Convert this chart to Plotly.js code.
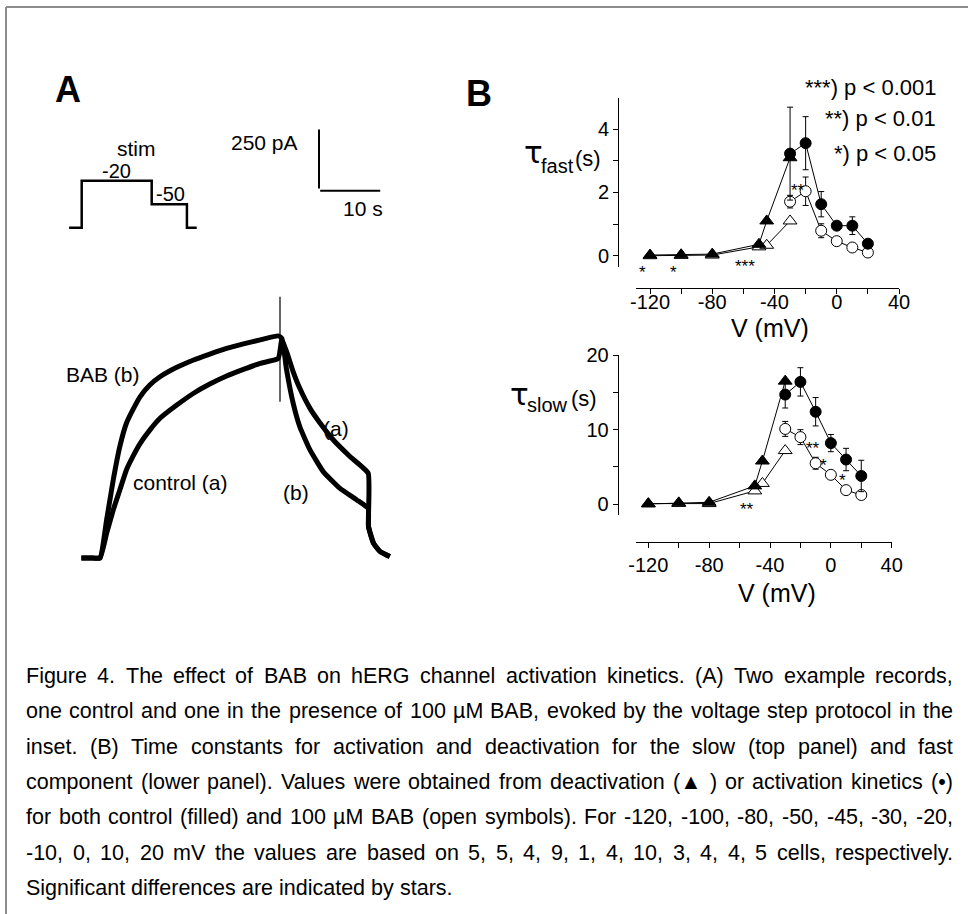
<!DOCTYPE html>
<html><head><meta charset="utf-8">
<script src="https://cdn.plot.ly/plotly-3.0.1.min.js"></script>
<style>html,body{margin:0;padding:0;background:#fff;} #chart{width:968px;height:914px;}</style>
</head><body><div id="chart"></div>
<script>
// ================= DATA =================
// Panel B: voltages (mV)
const vTriangle = [-120, -100, -80, -50, -45, -30];
const vCircle = [-30, -20, -10, 0, 10, 20];

// tau fast (s)
const fastCtrlTri = [0.02, 0.03, 0.05, 0.36, 1.10, 3.10];
const fastBabTri  = [0.00, 0.01, 0.02, 0.28, 0.33, 1.10];
const fastCtrlCirc    = [3.23, 3.56, 1.63, 0.95, 0.95, 0.38];
const fastCtrlCircErr = [1.47, 0.84, 0.40, 0.00, 0.28, 0.00];
const fastBabCirc     = [1.71, 2.04, 0.79, 0.46, 0.26, 0.10];
const fastBabCircErr  = [0.20, 0.45, 0.22, 0.00, 0.00, 0.00];

// tau slow (s)
const slowCtrlTri = [0.05, 0.20, 0.27, 2.47, 5.80, 16.5];
const slowBabTri  = [0.10, 0.12, 0.10, 1.80, 2.80, 7.20];
const slowCtrlCirc    = [14.7, 16.4, 12.4, 8.2, 6.0, 3.8];
const slowCtrlCircErr = [1.8, 1.9, 1.9, 1.15, 1.5, 2.1];
const slowBabCirc     = [10.1, 9.0, 5.5, 3.95, 1.9, 1.25];
const slowBabCircErr  = [1.0, 1.0, 0.8, 0.0, 0.0, 0.0];

// significance stars
const sigFastV = [-125, -105, -59, -25];
const sigFastY = [-0.34, -0.34, -0.20, 2.20];
const sigFastText = ['*', '*', '***', '**'];
const sigSlowV = [-55, -12, -5, 7.6];
const sigSlowY = [-0.1, 8.0, 5.7, 3.7];
const sigSlowText = ['**', '**', '*', '*'];

// tick labels
const vTickVals = [-120, -100, -80, -60, -40, -20, 0, 20, 40];
const vTickText = ['-120', '', '-80', '', '-40', '', '0', '', '40'];
const fastTickVals = [0, 1, 2, 3, 4];
const fastTickText = ['0', '', '2', '', '4'];
const slowTickVals = [0, 5, 10, 15, 20];
const slowTickText = ['0', '', '10', '', '20'];

// Panel A: current records (time s, current pA)
const ctrlT = [-3.1, -1.5, 0, 1.1, 2.2, 3.3, 4.4, 5.6, 6.7, 8.3, 10.0, 12.8, 15.6, 18.3, 21.1, 23.9, 26.7, 29.7,
               30.3, 31.1, 32.2, 33.3, 35.0, 36.7, 38.9, 41.7, 44.7, 44.75, 45.6, 46.7, 48.3];
const ctrlI = [0, 0, 0, 104, 203, 288, 373, 436, 486, 542, 592, 648, 698, 737, 771, 799, 825, 845,
               924, 874, 789, 719, 634, 571, 500, 429, 359, 133, 62, 27, 6];
const babT  = [-3.1, -1.5, 0, 1.1, 2.2, 3.3, 4.4, 5.6, 6.7, 8.3, 10.0, 12.8, 15.6, 18.3, 21.1, 23.9, 26.7, 29.7,
               30.3, 31.1, 32.2, 33.3, 35.0, 37.2, 40.0, 42.8, 44.7, 44.75, 45.6, 46.7, 48.3];
const babI  = [0, 0, 0, 161, 330, 472, 571, 634, 684, 733, 768, 808, 839, 864, 888, 907, 924, 941,
               931, 797, 655, 556, 458, 366, 295, 246, 210, 133, 62, 27, 6];
const spikeT = [30.0, 30.0];
const spikeI = [1107, 662];

// scale bar (s, pA)
const scaleT = 10;
const scaleI = 250;

// stimulus protocol (s, mV)
const stimT = [-5.4, 0, 0, 30, 30, 45.1, 45.1, 49.3];
const stimV = [-80, -80, -20, -20, -50, -50, -80, -80];

// caption
const captionLines = [
  'Figure 4. The effect of BAB on hERG channel activation kinetics. (A) Two example records,',
  'one control and one in the presence of 100 µM BAB, evoked by the voltage step protocol in the',
  'inset. (B) Time constants for activation and deactivation for the slow (top panel) and fast',
  'component (lower panel). Values were obtained from deactivation (▲ ) or activation kinetics (•)',
  'for both control (filled) and 100 µM BAB (open symbols). For -120, -100, -80, -50, -45, -30, -20,',
  '-10, 0, 10, 20 mV the values are based on 5, 5, 4, 9, 1, 4, 10, 3, 4, 4, 5 cells, respectively.',
  'Significant differences are indicated by stars.'
];

// ================= LAYOUT HELPERS =================
const W = 968, H = 914;
const FONT = '"Liberation Sans", Arial, sans-serif';
const px = x => x / W;
const py = y => 1 - y / H;

function txt(x, y, text, size, opts, family) {
  return Object.assign({
    xref: 'paper', yref: 'paper', x: px(x), y: py(y), text: text, showarrow: false,
    xanchor: 'center', yanchor: 'middle', font: {family: family || FONT, size: size, color: '#000'}
  }, opts || {});
}

const ann = [];
// panel letters
ann.push(txt(67.5, 90, '<b>A</b>', 36));
ann.push(txt(478.5, 93.5, '<b>B</b>', 36));
// legend
ann.push(txt(938, 87, '***) p &lt; 0.001', 22, {xanchor: 'right'}));
ann.push(txt(938, 118, '**) p &lt; 0.01', 22, {xanchor: 'right'}));
ann.push(txt(938, 153, '*) p &lt; 0.05', 22, {xanchor: 'right'}));
// y titles
ann.push(txt(533, 152, 'τ', 31, null, '"DejaVu Sans", sans-serif'));
ann.push(txt(557, 166, 'fast', 20));
ann.push(txt(588, 158, '(s)', 22));
ann.push(txt(519.5, 394, 'τ', 31, null, '"DejaVu Sans", sans-serif'));
ann.push(txt(547, 405, 'slow', 20));
ann.push(txt(584, 398, '(s)', 22));
// x titles
ann.push(txt(770, 328, 'V (mV)', 25));
ann.push(txt(777, 593, 'V (mV)', 25));
// panel A texts
ann.push(txt(136, 148, 'stim', 21));
ann.push(txt(116, 171, '-20', 20));
ann.push(txt(170, 194, '-50', 20));
ann.push(txt(264, 142, '250 pA', 21));
ann.push(txt(363, 208, '10 s', 21));
ann.push(txt(103, 374, 'BAB (b)', 21));
ann.push(txt(180, 482, 'control (a)', 21));
ann.push(txt(336, 428, '(a)', 21));
ann.push(txt(296, 492, '(b)', 21));

// significance stars (data coordinates)
sigFastV.forEach((v, i) => ann.push({xref: 'x', yref: 'y', x: v, y: sigFastY[i], text: sigFastText[i],
  showarrow: false, yshift: i < 2 ? -6 : -4, font: {family: FONT, size: 17, color: '#000'}}));
sigSlowV.forEach((v, i) => ann.push({xref: 'x2', yref: 'y2', x: v, y: sigSlowY[i], text: sigSlowText[i],
  showarrow: false, yshift: -4, font: {family: FONT, size: 17, color: '#000'}}));

// caption, justified word by word
const CAP_SIZE = 21.5, CAP_L = 25, CAP_R = 952, CAP_Y0 = 676, CAP_DY = 35.3;
const ctx = document.createElement('canvas').getContext('2d');
ctx.font = CAP_SIZE + 'px "Liberation Sans"';
captionLines.forEach((line, li) => {
  const words = line.split(' ');
  const widths = words.map(w => ctx.measureText(w).width);
  const total = widths.reduce((a, b) => a + b, 0);
  const last = li === captionLines.length - 1;
  const gap = last ? ctx.measureText(' ').width : Math.max(3, (CAP_R - CAP_L - total) / (words.length - 1));
  let x = CAP_L;
  words.forEach((w, wi) => {
    ann.push(txt(x - 1, CAP_Y0 + li * CAP_DY, w, CAP_SIZE, {xanchor: 'left'}));
    x += widths[wi] + gap;
  });
});

// ================= TRACES =================
const lineBlk = {color: '#000', width: 1};
function mk(x, y, xa, ya, symbol, filled, size, err) {
  const t = {
    x: x, y: y, xaxis: xa, yaxis: ya, type: 'scatter', mode: 'lines+markers', hoverinfo: 'skip',
    cliponaxis: false, line: lineBlk,
    marker: {symbol: symbol, size: size, color: filled ? '#000' : '#fff', line: {color: '#000', width: 1}}
  };
  if (err) t.error_y = {type: 'data', array: err, visible: true, color: '#000', thickness: 1, width: 3};
  return t;
}
const rec = {color: '#000', width: 5, shape: 'spline', smoothing: 0.4};

const traces = [
  // tau fast
  mk(vTriangle, fastBabTri, 'x', 'y', 'triangle-up', false, 12),
  mk(vCircle, fastBabCirc, 'x', 'y', 'circle', false, 11, fastBabCircErr),
  mk(vTriangle, fastCtrlTri, 'x', 'y', 'triangle-up', true, 12),
  mk(vCircle, fastCtrlCirc, 'x', 'y', 'circle', true, 11, fastCtrlCircErr),
  // tau slow
  mk(vTriangle, slowBabTri, 'x2', 'y2', 'triangle-up', false, 12),
  mk(vCircle, slowBabCirc, 'x2', 'y2', 'circle', false, 11, slowBabCircErr),
  mk(vTriangle, slowCtrlTri, 'x2', 'y2', 'triangle-up', true, 12),
  mk(vCircle, slowCtrlCirc, 'x2', 'y2', 'circle', true, 11, slowCtrlCircErr),
  // panel A records
  {x: ctrlT, y: ctrlI, xaxis: 'x3', yaxis: 'y3', mode: 'lines', hoverinfo: 'skip', line: rec},
  {x: babT, y: babI, xaxis: 'x3', yaxis: 'y3', mode: 'lines', hoverinfo: 'skip', line: rec},
  {x: spikeT, y: spikeI, xaxis: 'x3', yaxis: 'y3', mode: 'lines', hoverinfo: 'skip', line: {color: '#000', width: 1.2}},
  // scale bar
  {x: [36.5, 36.5, null, 36.7, 36.7 + scaleT], y: [1566 + scaleI, 1566, null, 1556, 1556],
   xaxis: 'x3', yaxis: 'y3', mode: 'lines', hoverinfo: 'skip', line: {color: '#000', width: 2}},
  // stimulus protocol
  {x: stimT, y: stimV, xaxis: 'x4', yaxis: 'y4', mode: 'lines', hoverinfo: 'skip', line: {color: '#000', width: 2.5}}
];

function xAx(d0, d1, r0, r1, pos, standoff) {
  return {domain: [px(d0), px(d1)], range: [r0, r1], anchor: 'free', position: py(pos), showline: true,
    linecolor: '#000', linewidth: 1, ticks: 'outside', ticklen: 5, tickwidth: 1, tickcolor: '#000',
    ticklabelstandoff: standoff,
    tickmode: 'array', tickvals: vTickVals, ticktext: vTickText, showgrid: false, zeroline: false,
    automargin: false, fixedrange: true, tickfont: {family: FONT, size: 20, color: '#000'}};
}
function yAx(top, bottom, r0, r1, pos, vals, text) {
  return {domain: [py(bottom), py(top)], range: [r0, r1], anchor: 'free', position: px(pos), showline: true,
    linecolor: '#000', linewidth: 1, ticks: 'outside', ticklen: 5, tickwidth: 1, tickcolor: '#000',
    tickmode: 'array', tickvals: vals, ticktext: text, showgrid: false, zeroline: false,
    automargin: false, fixedrange: true, tickfont: {family: FONT, size: 20, color: '#000'}};
}
const hidden = (d, r, horiz) => ({domain: horiz ? [px(d[0]), px(d[1])] : [py(d[1]), py(d[0])], range: r,
  visible: false, fixedrange: true, anchor: 'free', position: 0});

const layout = {
  width: W, height: H, margin: {l: 0, r: 0, t: 0, b: 0}, showlegend: false,
  paper_bgcolor: '#fff', plot_bgcolor: 'rgba(0,0,0,0)',
  xaxis: xAx(635.7, 899, -129.2, 40, 288, -9),
  yaxis: yAx(98, 266.7, -0.348, 4.99, 618, fastTickVals, fastTickText),
  xaxis2: xAx(635.7, 891.7, -128.3, 40, 541.7, 0),
  yaxis2: yAx(355, 515, -1.43, 20, 617.7, slowTickVals, slowTickText),
  xaxis3: hidden([60, 400], [-6.667, 50], true),
  yaxis3: hidden([120, 580], [-93.2, 1855.8], false),
  xaxis4: hidden([60, 200], [-9.3, 50.7], true),
  yaxis4: hidden([170, 235], [-89.3, -6.3], false),
  annotations: ann,
  shapes: [
    {type: 'line', xref: 'paper', yref: 'paper', x0: px(6), x1: 1, y0: py(7), y1: py(7), line: {color: '#8c8c8c', width: 2}},
    {type: 'line', xref: 'paper', yref: 'paper', x0: px(6), x1: px(6), y0: py(7), y1: 0, line: {color: '#8c8c8c', width: 2}}
  ]
};

Plotly.newPlot('chart', traces, layout, {displayModeBar: false, staticPlot: true});
</script>
</body></html>
